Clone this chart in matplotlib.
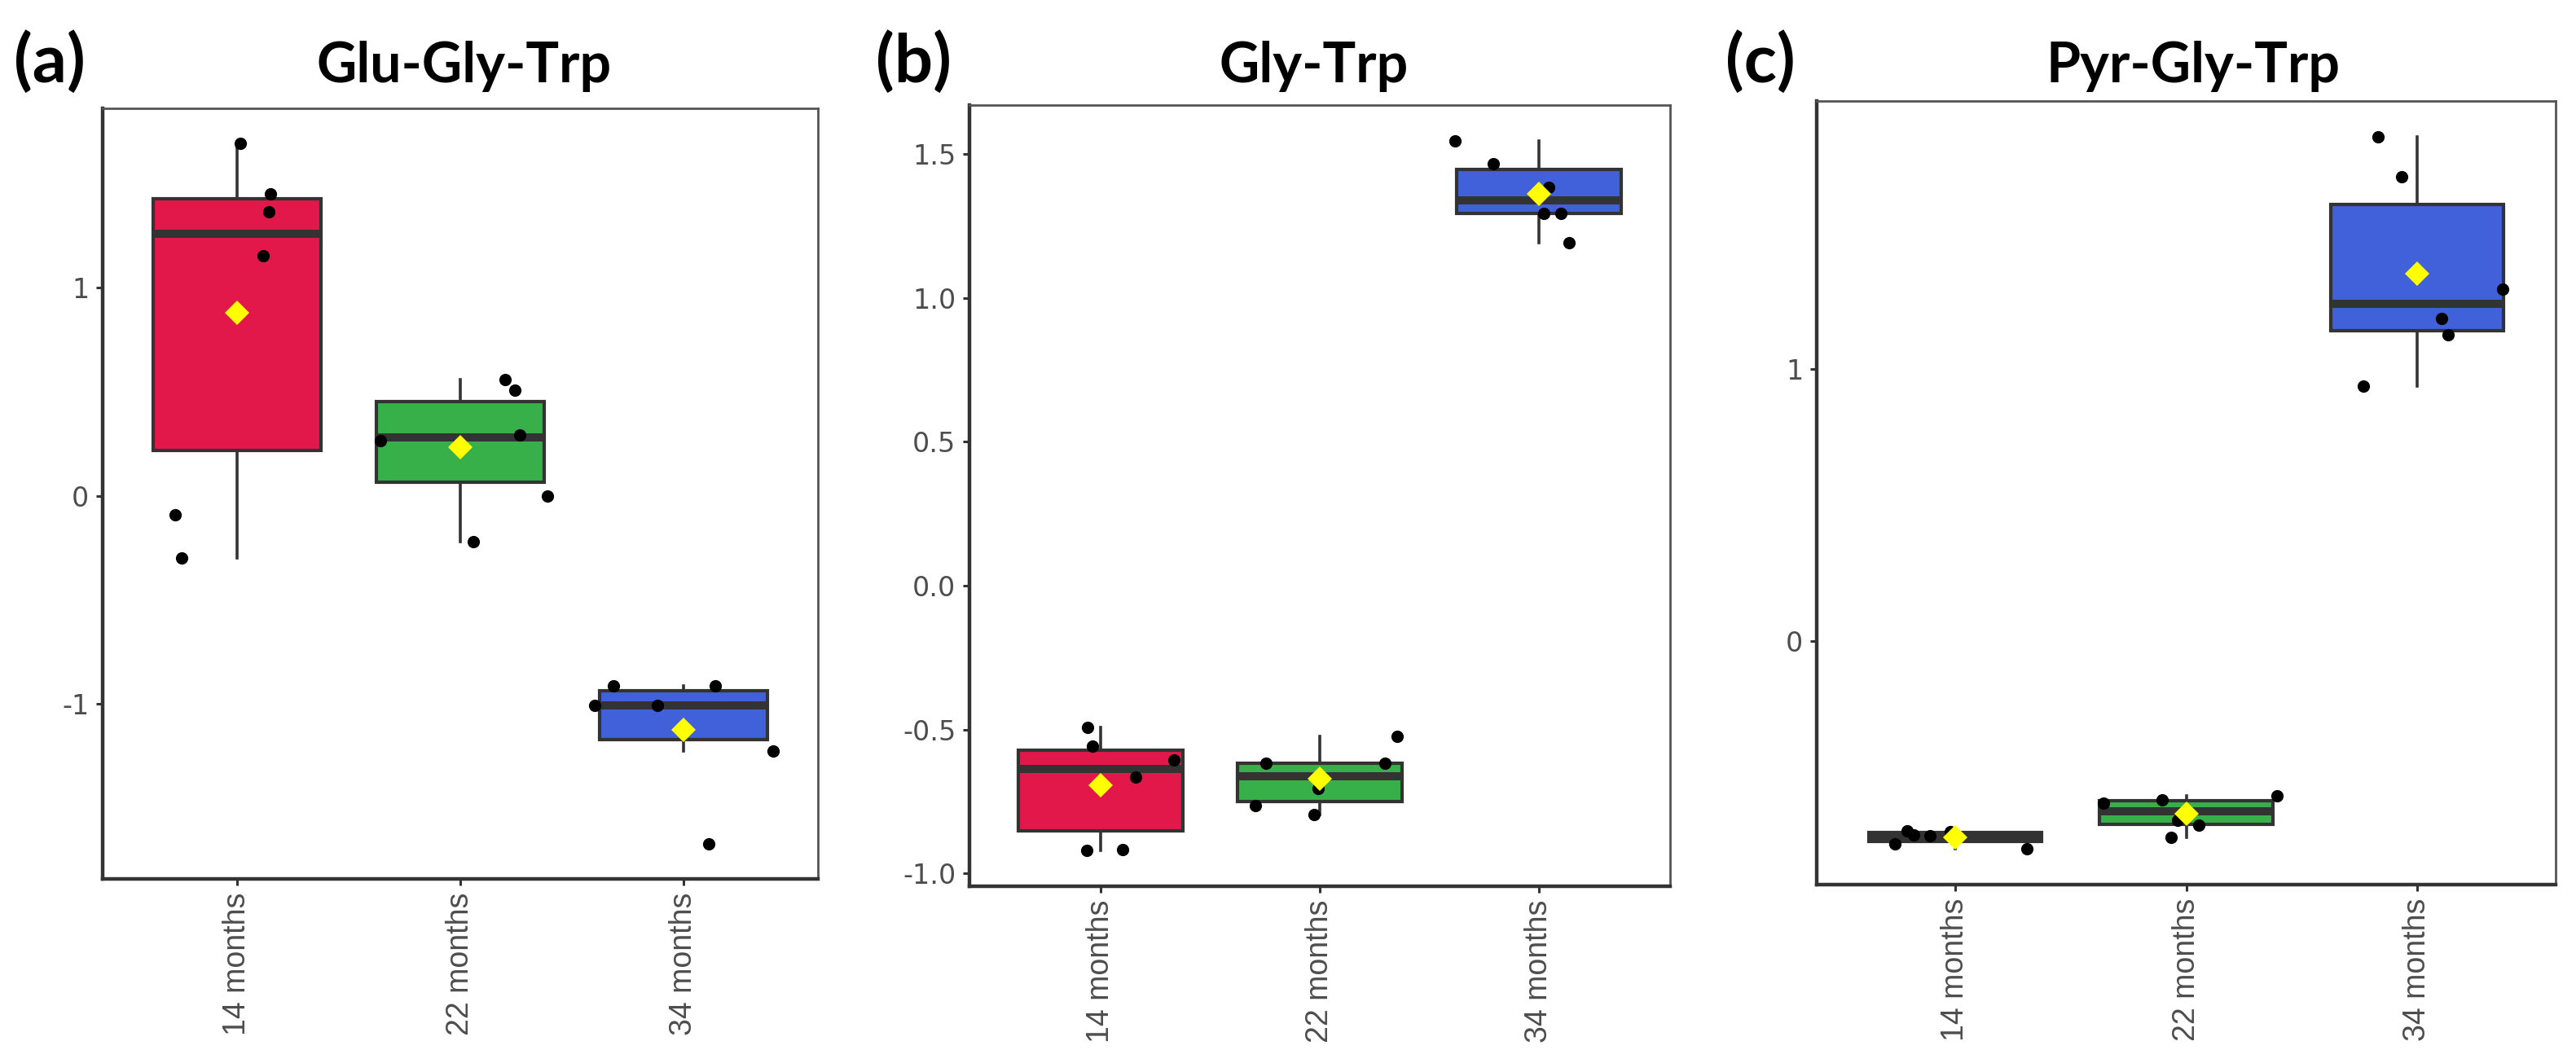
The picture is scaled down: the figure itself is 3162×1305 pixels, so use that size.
import matplotlib
matplotlib.use("Agg")
import matplotlib.pyplot as plt
import numpy as np

# ---------------- data ----------------
categories = ["14 months", "22 months", "34 months"]
titles = ["Glu-Gly-Trp", "Gly-Trp", "Pyr-Gly-Trp"]
panel_labels = ["(a)", "(b)", "(c)"]
box_colors = ["#E2184A", "#38B04A", "#4061D9"]

# (a) Glu-Gly-Trp
a_14 = [1.694, 1.45, 1.366, 1.154, -0.091, -0.299]
a_22 = [0.559, 0.507, 0.293, 0.267, 0.0, -0.218]
a_34 = [-0.914, -0.914, -1.005, -1.005, -1.226, -1.672]
a_14_jit = [0.017, 0.15, 0.145, 0.118, -0.276, -0.246]
a_22_jit = [0.2, 0.244, 0.266, -0.357, 0.389, 0.057]
a_34_jit = [-0.315, 0.14, -0.40, -0.118, 0.40, 0.11]

# (b) Gly-Trp
b_14 = [-0.493, -0.559, -0.606, -0.665, -0.921, -0.916]
b_22 = [-0.524, -0.618, -0.616, -0.705, -0.764, -0.794]
b_34 = [1.546, 1.466, 1.384, 1.292, 1.292, 1.191]
b_14_jit = [-0.06, -0.038, 0.334, 0.158, -0.065, 0.10]
b_22_jit = [0.352, -0.244, 0.296, -0.008, -0.294, -0.025]
b_34_jit = [-0.382, -0.206, 0.045, 0.025, 0.10, 0.14]

# (c) Pyr-Gly-Trp
c_14 = [-0.748, -0.70, -0.716, -0.72, -0.703, -0.768]
c_22 = [-0.598, -0.588, -0.573, -0.663, -0.68, -0.726]
c_34 = [1.858, 1.711, 1.297, 1.187, 1.127, 0.938]
c_14_jit = [-0.26, -0.208, -0.181, -0.11, -0.022, 0.309]
c_22_jit = [-0.358, -0.104, 0.394, -0.036, 0.055, -0.065]
c_34_jit = [-0.17, -0.067, 0.37, 0.105, 0.136, -0.232]

a_ticks = [-1, 0, 1]
a_ticklabels = ["-1", "0", "1"]
b_ticks = [-1.0, -0.5, 0.0, 0.5, 1.0, 1.5]
b_ticklabels = ["-1.0", "-0.5", "0.0", "0.5", "1.0", "1.5"]
c_ticks = [0, 1]
c_ticklabels = ["0", "1"]

panels = [
    dict(values=[a_14, a_22, a_34], jit=[a_14_jit, a_22_jit, a_34_jit],
         ticks=a_ticks, ticklabels=a_ticklabels),
    dict(values=[b_14, b_22, b_34], jit=[b_14_jit, b_22_jit, b_34_jit],
         ticks=b_ticks, ticklabels=b_ticklabels),
    dict(values=[c_14, c_22, c_34], jit=[c_14_jit, c_22_jit, c_34_jit],
         ticks=c_ticks, ticklabels=c_ticklabels),
]

# ---------------- layout ----------------
W, H = 3162, 1305
fig = plt.figure(figsize=(W / 200, H / 200), dpi=200)

# axes rectangles in pixels: left, right, top, bottom
rects_px = [(126, 1004, 133, 1079), (1190, 2050, 129, 1088), (2230, 3137, 124, 1086)]
title_cx = [570, 1613, 2692]
label_x = [17, 1075, 2118]

for i, (p, r) in enumerate(zip(panels, rects_px)):
    l, rr, t, b = r
    ax = fig.add_axes([l / W, 1 - b / H, (rr - l) / W, (b - t) / H])
    pos = np.arange(1, len(categories) + 1)
    bp = ax.boxplot(p["values"], positions=pos, widths=0.75, whis=1.5,
                    patch_artist=True, showfliers=False, showcaps=False,
                    medianprops=dict(color="#333333", linewidth=3.6, solid_capstyle="butt"),
                    boxprops=dict(edgecolor="#333333", linewidth=1.5),
                    whiskerprops=dict(color="#333333", linewidth=1.3),
                    zorder=2)
    for patch, col in zip(bp["boxes"], box_colors):
        patch.set_facecolor(col)
    for k, (vals, jit) in enumerate(zip(p["values"], p["jit"])):
        ax.scatter(np.array(jit) + pos[k], vals, s=30, color="black", zorder=4,
                   linewidths=0)
        ax.plot([pos[k]], [np.mean(vals)], marker="D", markersize=7.5,
                color="#FFFF00", markeredgewidth=0, zorder=5, linestyle="none")
    allv = np.concatenate([np.array(v) for v in p["values"]])
    lo, hi = allv.min(), allv.max()
    pad = 0.05 * (hi - lo)
    ax.set_ylim(lo - pad, hi + pad)
    ax.set_xlim(0.4, 3.6)
    ax.set_xticks(pos)
    ax.set_xticklabels(categories, rotation=90, fontsize=13.5, color="#4D4D4D",
                       family="Liberation Sans")
    ax.set_yticks(p["ticks"])
    ax.set_yticklabels(p["ticklabels"], fontsize=12, color="#4D4D4D",
                       family="DejaVu Sans")
    ax.tick_params(axis="both", direction="out", length=3, width=1.1, color="#333333",
                   pad=3)
    for side in ["top", "right"]:
        ax.spines[side].set_color("#555555")
        ax.spines[side].set_linewidth(1.0)
    for side in ["left", "bottom"]:
        ax.spines[side].set_color("#333333")
        ax.spines[side].set_linewidth(1.6)
    ax.grid(False)

    fig.text(title_cx[i] / W, 1 - 101 / H, titles[i], ha="center", va="baseline",
             fontsize=24.5, fontweight="bold", family="Lato", color="black")
    fig.text(label_x[i] / W, 1 - 101 / H, panel_labels[i], ha="left", va="baseline",
             fontsize=30, fontweight="bold", family="Lato", color="black")

fig.savefig("out.png", dpi=200, facecolor="white")
